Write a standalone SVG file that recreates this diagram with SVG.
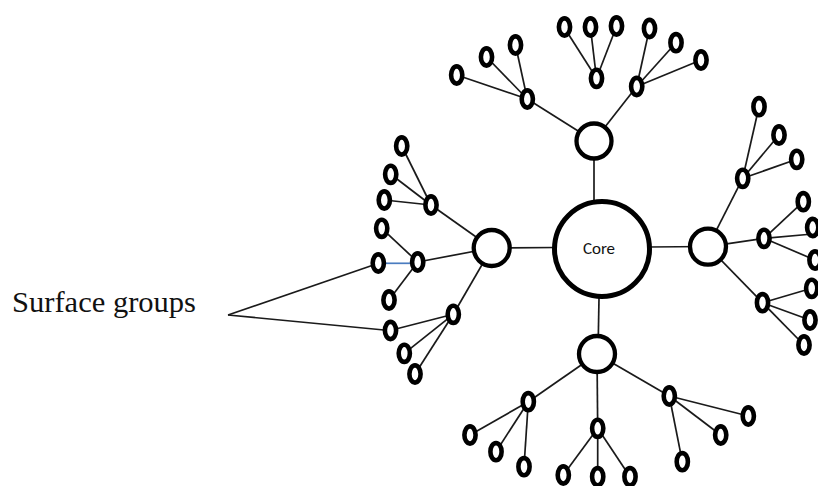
<svg xmlns="http://www.w3.org/2000/svg" width="818" height="486" viewBox="0 0 818 486">
<style>
.ln{stroke:#1a1a1a;stroke-width:1.7;fill:none}
.blue{stroke:#4a7cc0;stroke-width:1.7;fill:none}
.leaf{fill:#fff;stroke:#000;stroke-width:4.6}
.mid{fill:#fff;stroke:#000;stroke-width:4.3}
.core{fill:#fff;stroke:#000;stroke-width:5}
.lbl{font-family:"Liberation Serif","Times New Roman",serif;font-size:30px;fill:#111}
.ct{font-family:Carlito,"Liberation Sans",Arial,sans-serif;font-size:17px;fill:#111}
</style>
<rect width="818" height="486" fill="#fff"/>
<g id="connectors">
<line class="ln" x1="594" y1="141" x2="594" y2="200"/>
<line class="ln" x1="491.7" y1="248" x2="556" y2="247.5"/>
<line class="ln" x1="648" y1="247" x2="708" y2="246.5"/>
<line class="ln" x1="599" y1="298" x2="598" y2="354"/>
<line class="ln" x1="594" y1="141" x2="527.3" y2="99"/>
<line class="ln" x1="594" y1="141" x2="636.7" y2="86.5"/>
<line class="ln" x1="527.3" y1="99" x2="456.7" y2="75"/>
<line class="ln" x1="527.3" y1="99" x2="486.5" y2="57"/>
<line class="ln" x1="527.3" y1="99" x2="515.5" y2="45"/>
<line class="ln" x1="596.5" y1="78.3" x2="564.5" y2="28"/>
<line class="ln" x1="596.5" y1="78.3" x2="590.5" y2="28"/>
<line class="ln" x1="596.5" y1="78.3" x2="616.5" y2="26.5"/>
<line class="ln" x1="636.7" y1="86.5" x2="649.5" y2="28.5"/>
<line class="ln" x1="636.7" y1="86.5" x2="676" y2="42.7"/>
<line class="ln" x1="636.7" y1="86.5" x2="701" y2="60"/>
<line class="ln" x1="491.7" y1="248" x2="431" y2="205"/>
<line class="ln" x1="491.7" y1="248" x2="417.7" y2="262"/>
<line class="ln" x1="491.7" y1="248" x2="453.3" y2="314.3"/>
<line class="ln" x1="431" y1="205" x2="401.7" y2="146"/>
<line class="ln" x1="431" y1="205" x2="390.7" y2="174.3"/>
<line class="ln" x1="431" y1="205" x2="384.3" y2="200"/>
<line class="ln" x1="417.7" y1="262" x2="381.7" y2="228.3"/>
<line class="blue" x1="384" y1="263.3" x2="412" y2="263.3"/>
<line class="ln" x1="417.7" y1="262" x2="389" y2="300"/>
<line class="ln" x1="453.3" y1="314.3" x2="390" y2="330.5"/>
<line class="ln" x1="453.3" y1="314.3" x2="404.3" y2="353.3"/>
<line class="ln" x1="453.3" y1="314.3" x2="415" y2="374"/>
<line class="ln" x1="708" y1="246.7" x2="742.7" y2="178.3"/>
<line class="ln" x1="708" y1="246.7" x2="764" y2="238.3"/>
<line class="ln" x1="708" y1="246.7" x2="762.5" y2="302.7"/>
<line class="ln" x1="742.7" y1="178.3" x2="759" y2="106.7"/>
<line class="ln" x1="742.7" y1="178.3" x2="779" y2="135"/>
<line class="ln" x1="742.7" y1="178.3" x2="796.7" y2="159.3"/>
<line class="ln" x1="764" y1="238.3" x2="803.3" y2="201.7"/>
<line class="ln" x1="764" y1="238.3" x2="812.7" y2="234"/>
<line class="ln" x1="764" y1="238.3" x2="815" y2="260"/>
<line class="ln" x1="762.5" y1="302.7" x2="811.7" y2="288.3"/>
<line class="ln" x1="762.5" y1="302.7" x2="810" y2="320"/>
<line class="ln" x1="762.5" y1="302.7" x2="804" y2="345"/>
<line class="ln" x1="597" y1="354" x2="528.3" y2="401.7"/>
<line class="ln" x1="597" y1="354" x2="597.7" y2="428.3"/>
<line class="ln" x1="597" y1="354" x2="669.3" y2="396"/>
<line class="ln" x1="528.3" y1="401.7" x2="470" y2="435"/>
<line class="ln" x1="528.3" y1="401.7" x2="496" y2="451.7"/>
<line class="ln" x1="528.3" y1="401.7" x2="524" y2="466.7"/>
<line class="ln" x1="597.7" y1="428.3" x2="563.3" y2="475"/>
<line class="ln" x1="597.7" y1="428.3" x2="597.7" y2="476.7"/>
<line class="ln" x1="597.7" y1="428.3" x2="630" y2="476.7"/>
<line class="ln" x1="669.3" y1="396" x2="748.3" y2="416"/>
<line class="ln" x1="669.3" y1="396" x2="720.7" y2="435"/>
<line class="ln" x1="669.3" y1="396" x2="682.3" y2="461.7"/>
<line class="ln" x1="228" y1="315" x2="372" y2="265.5"/>
<line class="ln" x1="228" y1="315" x2="384" y2="330"/>
</g>
<g id="core"><circle class="core" cx="602" cy="249" r="47.5"/><text class="ct" x="599" y="254" text-anchor="middle">Core</text></g>
<g id="mid-top"><circle class="mid" cx="594" cy="141" r="17.5"/></g>
<g id="mid-left"><circle class="mid" cx="491.7" cy="248" r="18"/></g>
<g id="mid-right"><circle class="mid" cx="708" cy="246.7" r="18"/></g>
<g id="mid-bottom"><circle class="mid" cx="597" cy="354" r="18"/></g>
<g id="leaves">
<ellipse class="leaf" cx="527.3" cy="99" rx="5.6" ry="8.6"/>
<ellipse class="leaf" cx="456.7" cy="75" rx="5.6" ry="8.6"/>
<ellipse class="leaf" cx="486.5" cy="57" rx="5.6" ry="8.6"/>
<ellipse class="leaf" cx="515.5" cy="45" rx="5.6" ry="8.6"/>
<ellipse class="leaf" cx="596.5" cy="78.3" rx="5.6" ry="8.6"/>
<ellipse class="leaf" cx="564.5" cy="27" rx="5.6" ry="8.6"/>
<ellipse class="leaf" cx="590.5" cy="27" rx="5.6" ry="8.6"/>
<ellipse class="leaf" cx="616.5" cy="26" rx="5.6" ry="8.6"/>
<ellipse class="leaf" cx="636.7" cy="86.5" rx="5.6" ry="8.6"/>
<ellipse class="leaf" cx="649.5" cy="28.5" rx="5.6" ry="8.6"/>
<ellipse class="leaf" cx="676" cy="42.7" rx="5.6" ry="8.6"/>
<ellipse class="leaf" cx="701" cy="60" rx="5.6" ry="8.6"/>
<ellipse class="leaf" cx="431" cy="205" rx="5.6" ry="8.6"/>
<ellipse class="leaf" cx="401.7" cy="146" rx="5.6" ry="8.6"/>
<ellipse class="leaf" cx="390.7" cy="174.3" rx="5.6" ry="8.6"/>
<ellipse class="leaf" cx="384.3" cy="200" rx="5.6" ry="8.6"/>
<ellipse class="leaf" cx="417.7" cy="262" rx="5.6" ry="8.6"/>
<ellipse class="leaf" cx="381.7" cy="228.3" rx="5.6" ry="8.6"/>
<ellipse class="leaf" cx="378.3" cy="263" rx="5.6" ry="8.6"/>
<ellipse class="leaf" cx="389" cy="300" rx="5.6" ry="8.6"/>
<ellipse class="leaf" cx="453.3" cy="314.3" rx="5.6" ry="8.6"/>
<ellipse class="leaf" cx="390.5" cy="330.5" rx="5.6" ry="8.6"/>
<ellipse class="leaf" cx="404.3" cy="353.3" rx="5.6" ry="8.6"/>
<ellipse class="leaf" cx="415" cy="374" rx="5.6" ry="8.6"/>
<ellipse class="leaf" cx="742.7" cy="178.3" rx="5.6" ry="8.6"/>
<ellipse class="leaf" cx="759" cy="106.7" rx="5.6" ry="8.6"/>
<ellipse class="leaf" cx="779" cy="135" rx="5.6" ry="8.6"/>
<ellipse class="leaf" cx="796.7" cy="159.3" rx="5.6" ry="8.6"/>
<ellipse class="leaf" cx="764" cy="238.3" rx="5.6" ry="8.6"/>
<ellipse class="leaf" cx="803.3" cy="201.7" rx="5.6" ry="8.6"/>
<ellipse class="leaf" cx="812.7" cy="227.5" rx="5.6" ry="8.6"/>
<ellipse class="leaf" cx="815" cy="260" rx="5.6" ry="8.6"/>
<ellipse class="leaf" cx="762.5" cy="302.7" rx="5.6" ry="8.6"/>
<ellipse class="leaf" cx="811.7" cy="288.3" rx="5.6" ry="8.6"/>
<ellipse class="leaf" cx="810" cy="320" rx="5.6" ry="8.6"/>
<ellipse class="leaf" cx="804" cy="345" rx="5.6" ry="8.6"/>
<ellipse class="leaf" cx="528.3" cy="401.7" rx="5.6" ry="8.6"/>
<ellipse class="leaf" cx="470" cy="435" rx="5.6" ry="8.6"/>
<ellipse class="leaf" cx="496" cy="451.7" rx="5.6" ry="8.6"/>
<ellipse class="leaf" cx="524" cy="466.7" rx="5.6" ry="8.6"/>
<ellipse class="leaf" cx="597.7" cy="428.3" rx="5.6" ry="8.6"/>
<ellipse class="leaf" cx="563.3" cy="475" rx="5.6" ry="8.6"/>
<ellipse class="leaf" cx="597.7" cy="476.7" rx="5.6" ry="8.6"/>
<ellipse class="leaf" cx="630" cy="476.7" rx="5.6" ry="8.6"/>
<ellipse class="leaf" cx="669.3" cy="396" rx="5.6" ry="8.6"/>
<ellipse class="leaf" cx="748.3" cy="416" rx="5.6" ry="8.6"/>
<ellipse class="leaf" cx="720.7" cy="435" rx="5.6" ry="8.6"/>
<ellipse class="leaf" cx="682.3" cy="461.7" rx="5.6" ry="8.6"/>
</g>
<g id="label"><text class="lbl" x="12" y="312" textLength="184" lengthAdjust="spacingAndGlyphs">Surface groups</text></g>
</svg>
